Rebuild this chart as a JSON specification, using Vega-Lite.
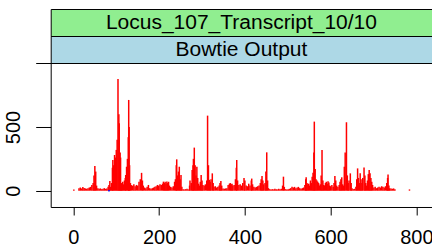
{
  "$schema": "https://vega.github.io/schema/vega-lite/v6.json",
  "padding": {"left": 2.7, "top": 8, "right": 0, "bottom": 0},
  "spacing": 0,
  "bounds": "flush",
  "config": {"font": "Liberation Sans", "view": {"stroke": "black", "strokeWidth": 1}},
  "datasets": {
    "cov": [
      {"p":1,"v":10},{"p":13,"v":20},{"p":16,"v":25},{"p":19,"v":18},{"p":22,"v":28},{"p":25,"v":22},{"p":28,"v":18},{"p":31,"v":15},{"p":34,"v":20},{"p":37,"v":25},{"p":40,"v":30},{"p":43,"v":45},{"p":46,"v":60},{"p":48,"v":120},{"p":50,"v":194},{"p":52,"v":150},{"p":54,"v":40},{"p":57,"v":20},{"p":60,"v":15},{"p":63,"v":18},{"p":66,"v":12},{"p":69,"v":15},{"p":72,"v":20},{"p":75,"v":15},{"p":78,"v":18},{"p":81,"v":30},{"p":83,"v":44},{"p":85,"v":76},{"p":87,"v":30},{"p":89,"v":60},{"p":91,"v":180},{"p":92,"v":240},{"p":94,"v":200},{"p":96,"v":280},{"p":98,"v":260},{"p":100,"v":320},{"p":102,"v":400},{"p":104,"v":877},{"p":106,"v":600},{"p":107,"v":529},{"p":109,"v":300},{"p":110,"v":260},{"p":112,"v":60},{"p":113,"v":40},{"p":115,"v":70},{"p":117,"v":50},{"p":119,"v":80},{"p":121,"v":100},{"p":122,"v":123},{"p":124,"v":188},{"p":126,"v":250},{"p":128,"v":420},{"p":129,"v":712},{"p":130,"v":500},{"p":131,"v":200},{"p":133,"v":60},{"p":135,"v":44},{"p":138,"v":40},{"p":141,"v":50},{"p":144,"v":35},{"p":147,"v":45},{"p":150,"v":40},{"p":153,"v":70},{"p":156,"v":90},{"p":159,"v":140},{"p":161,"v":80},{"p":163,"v":40},{"p":166,"v":25},{"p":169,"v":20},{"p":172,"v":30},{"p":175,"v":45},{"p":178,"v":20},{"p":181,"v":15},{"p":184,"v":20},{"p":187,"v":25},{"p":190,"v":30},{"p":193,"v":35},{"p":196,"v":45},{"p":199,"v":40},{"p":202,"v":50},{"p":205,"v":45},{"p":208,"v":55},{"p":210,"v":71},{"p":212,"v":60},{"p":214,"v":70},{"p":216,"v":55},{"p":218,"v":72},{"p":220,"v":60},{"p":222,"v":70},{"p":224,"v":40},{"p":227,"v":30},{"p":230,"v":25},{"p":233,"v":35},{"p":236,"v":70},{"p":238,"v":90},{"p":240,"v":200},{"p":241,"v":246},{"p":243,"v":120},{"p":245,"v":150},{"p":247,"v":188},{"p":249,"v":90},{"p":251,"v":123},{"p":253,"v":30},{"p":256,"v":12},{"p":259,"v":10},{"p":262,"v":12},{"p":265,"v":15},{"p":268,"v":10},{"p":271,"v":40},{"p":272,"v":80},{"p":275,"v":60},{"p":277,"v":162},{"p":279,"v":200},{"p":280,"v":250},{"p":282,"v":338},{"p":284,"v":200},{"p":286,"v":120},{"p":288,"v":188},{"p":290,"v":100},{"p":292,"v":55},{"p":294,"v":40},{"p":296,"v":70},{"p":298,"v":123},{"p":300,"v":80},{"p":302,"v":45},{"p":305,"v":40},{"p":308,"v":50},{"p":311,"v":80},{"p":313,"v":589},{"p":315,"v":200},{"p":317,"v":85},{"p":319,"v":70},{"p":321,"v":90},{"p":324,"v":136},{"p":326,"v":60},{"p":328,"v":30},{"p":331,"v":35},{"p":334,"v":25},{"p":337,"v":30},{"p":340,"v":40},{"p":342,"v":60},{"p":344,"v":76},{"p":346,"v":40},{"p":349,"v":18},{"p":352,"v":15},{"p":355,"v":18},{"p":358,"v":20},{"p":361,"v":45},{"p":364,"v":55},{"p":366,"v":60},{"p":368,"v":50},{"p":370,"v":55},{"p":372,"v":40},{"p":375,"v":45},{"p":378,"v":90},{"p":380,"v":180},{"p":381,"v":241},{"p":383,"v":80},{"p":386,"v":45},{"p":389,"v":50},{"p":392,"v":40},{"p":395,"v":60},{"p":398,"v":100},{"p":400,"v":80},{"p":403,"v":40},{"p":406,"v":35},{"p":409,"v":55},{"p":412,"v":40},{"p":415,"v":80},{"p":416,"v":95},{"p":418,"v":50},{"p":421,"v":30},{"p":424,"v":25},{"p":427,"v":30},{"p":430,"v":35},{"p":433,"v":40},{"p":436,"v":60},{"p":438,"v":90},{"p":440,"v":116},{"p":442,"v":80},{"p":444,"v":50},{"p":447,"v":60},{"p":449,"v":150},{"p":451,"v":301},{"p":453,"v":80},{"p":455,"v":20},{"p":458,"v":12},{"p":461,"v":10},{"p":464,"v":12},{"p":467,"v":10},{"p":470,"v":15},{"p":473,"v":12},{"p":476,"v":10},{"p":479,"v":15},{"p":482,"v":12},{"p":485,"v":15},{"p":488,"v":40},{"p":490,"v":110},{"p":492,"v":30},{"p":495,"v":12},{"p":498,"v":10},{"p":501,"v":12},{"p":504,"v":15},{"p":507,"v":20},{"p":510,"v":30},{"p":513,"v":25},{"p":516,"v":30},{"p":519,"v":20},{"p":522,"v":25},{"p":525,"v":30},{"p":528,"v":20},{"p":531,"v":15},{"p":534,"v":20},{"p":537,"v":25},{"p":540,"v":45},{"p":542,"v":90},{"p":543,"v":105},{"p":545,"v":60},{"p":547,"v":50},{"p":549,"v":55},{"p":551,"v":40},{"p":553,"v":80},{"p":555,"v":60},{"p":557,"v":110},{"p":559,"v":140},{"p":561,"v":300},{"p":562,"v":542},{"p":564,"v":170},{"p":566,"v":90},{"p":568,"v":80},{"p":570,"v":70},{"p":572,"v":60},{"p":574,"v":40},{"p":576,"v":50},{"p":578,"v":120},{"p":580,"v":320},{"p":582,"v":80},{"p":584,"v":45},{"p":586,"v":40},{"p":588,"v":60},{"p":590,"v":70},{"p":592,"v":55},{"p":594,"v":75},{"p":596,"v":65},{"p":598,"v":40},{"p":600,"v":35},{"p":603,"v":45},{"p":606,"v":30},{"p":608,"v":60},{"p":610,"v":116},{"p":612,"v":80},{"p":614,"v":40},{"p":617,"v":30},{"p":620,"v":45},{"p":622,"v":70},{"p":624,"v":90},{"p":626,"v":105},{"p":628,"v":50},{"p":630,"v":40},{"p":632,"v":188},{"p":634,"v":300},{"p":637,"v":537},{"p":639,"v":120},{"p":641,"v":60},{"p":643,"v":80},{"p":646,"v":136},{"p":648,"v":60},{"p":650,"v":20},{"p":653,"v":12},{"p":656,"v":15},{"p":659,"v":30},{"p":661,"v":90},{"p":663,"v":175},{"p":665,"v":100},{"p":667,"v":60},{"p":669,"v":136},{"p":671,"v":90},{"p":673,"v":60},{"p":675,"v":100},{"p":678,"v":182},{"p":680,"v":120},{"p":682,"v":60},{"p":684,"v":40},{"p":686,"v":80},{"p":688,"v":130},{"p":690,"v":162},{"p":692,"v":136},{"p":694,"v":100},{"p":696,"v":70},{"p":698,"v":45},{"p":701,"v":25},{"p":704,"v":30},{"p":707,"v":20},{"p":710,"v":25},{"p":713,"v":30},{"p":716,"v":25},{"p":719,"v":35},{"p":722,"v":30},{"p":725,"v":25},{"p":728,"v":35},{"p":731,"v":60},{"p":733,"v":100},{"p":734,"v":127},{"p":736,"v":40},{"p":738,"v":20},{"p":741,"v":18},{"p":744,"v":15},{"p":747,"v":18},{"p":750,"v":12},{"p":784,"v":10}
    ]
  },
  "vconcat": [
    {
      "width": 381.5, "height": 27,
      "view": {"fill": "#90EE90", "stroke": "black"},
      "data": {"values": [{"t": "Locus_107_Transcript_10/10"}]},
      "mark": {"type": "text", "fontSize": 21, "color": "black", "baseline": "middle"},
      "encoding": {"text": {"field": "t"}}
    },
    {
      "width": 381.5, "height": 27,
      "view": {"fill": "#ADD8E6", "stroke": "black"},
      "data": {"values": [{"t": "Bowtie Output"}]},
      "mark": {"type": "text", "fontSize": 21, "color": "black", "baseline": "middle"},
      "encoding": {"text": {"field": "t"}}
    },
    {
      "width": 381.5, "height": 144,
      "view": {"stroke": "black"},
      "layer": [
        {
          "data": {"name": "cov"},
          "mark": {"type": "rule", "color": "#FF0000", "strokeWidth": 1.5},
          "encoding": {
            "x": {"field": "p", "type": "quantitative", "scale": {"domain": [-53, 837], "nice": false, "zero": false},
              "axis": {"values": [0, 200, 400, 600, 800], "grid": false, "domain": false, "tickSize": 8, "tickColor": "black", "labelColor": "black", "labelFontSize": 20, "labelPadding": 13, "title": null}},
            "y": {"field": "v", "type": "quantitative", "scale": {"domain": [-128, 1002], "nice": false, "zero": false},
              "axis": {"values": [0, 500, 1000], "labelExpr": "datum.value == 1000 ? '' : datum.label", "grid": false, "domain": false, "tickSize": 15, "tickColor": "black", "labelColor": "black", "labelFontSize": 20, "labelAngle": -90, "labelPadding": 12, "title": null}},
            "y2": {"datum": 0}
          }
        },
        {
          "data": {"values": [{"p": 83, "v": 0}]},
          "mark": {"type": "point", "filled": true, "color": "blue", "size": 3, "opacity": 1},
          "encoding": {
            "x": {"field": "p", "type": "quantitative"},
            "y": {"field": "v", "type": "quantitative"}
          }
        }
      ]
    }
  ]
}
